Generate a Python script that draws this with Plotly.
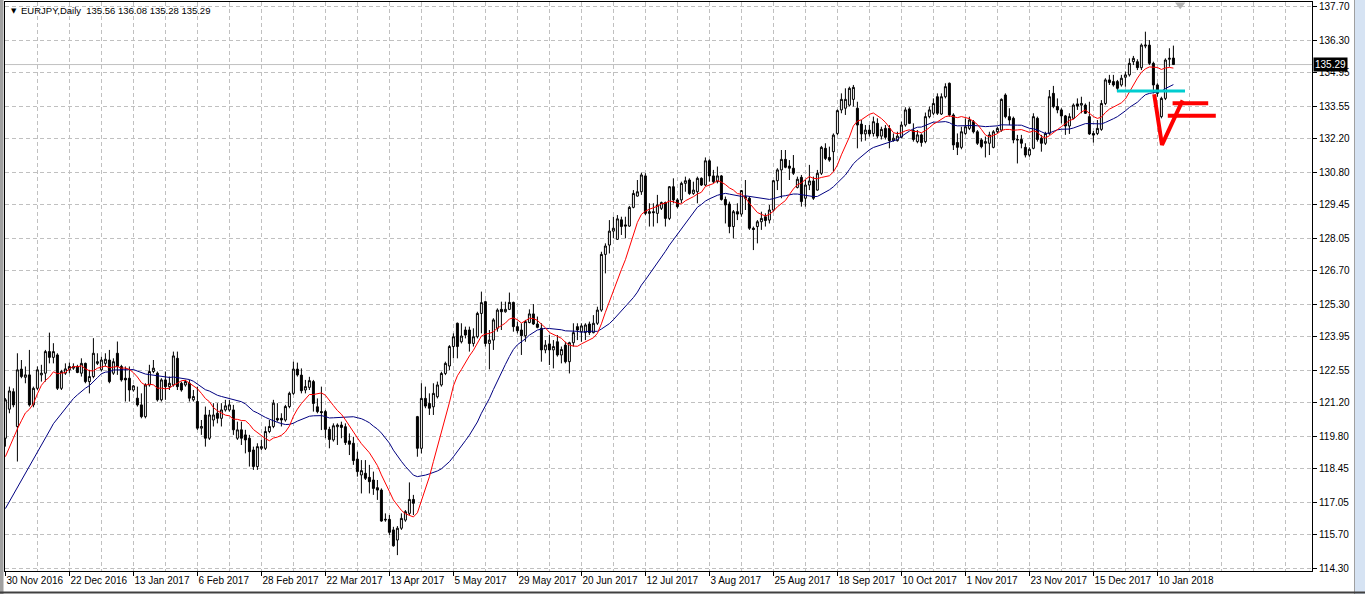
import plotly.graph_objects as go
import pandas as pd

# ---------------- data (EURJPY, Daily; 30 Nov 2016 .. 16 Jan 2018) ----------------
opens = [
119.72,120.93,121.66,120.21,122.60,122.26,122.36,121.11,121.80,122.36,
122.43,123.33,123.09,123.19,121.80,122.43,122.57,122.64,122.71,122.43,
122.84,122.08,122.29,122.84,122.57,122.84,122.98,122.43,123.26,122.71,
122.22,122.22,121.73,121.39,121.11,120.62,121.94,122.50,122.43,121.32,
122.15,121.87,121.94,123.05,122.01,121.94,122.01,121.32,121.25,120.14,
120.69,119.72,120.48,120.76,120.55,120.90,120.90,120.90,119.72,120.07,
119.86,119.72,119.23,118.54,119.30,119.30,120.00,120.21,120.55,120.55,
120.48,121.04,121.59,122.60,122.35,121.73,121.84,122.08,121.03,120.83,
120.83,120.09,119.65,120.20,120.27,120.20,119.61,119.51,118.85,118.19,
118.26,118.09,117.98,117.66,117.56,116.31,116.34,115.90,115.48,115.97,
116.31,116.59,117.17,120.62,119.30,121.38,121.17,121.03,121.45,121.94,
122.42,122.73,123.54,124.51,123.74,124.23,124.23,123.67,123.95,124.92,
125.41,123.67,123.81,124.30,125.09,124.99,125.09,125.38,124.37,124.23,
123.99,124.54,124.90,124.48,124.30,123.40,123.65,123.40,123.74,123.19,
123.60,122.91,123.70,124.37,124.16,124.12,124.48,124.12,124.51,125.06,
127.38,127.77,128.35,128.01,128.82,128.61,128.56,129.34,129.81,129.99,
130.65,129.09,129.16,129.09,129.30,129.54,128.88,130.20,129.65,129.65,
130.34,130.48,129.92,129.99,130.55,130.27,131.28,130.65,130.41,130.65,
129.67,129.48,128.54,129.16,129.06,129.79,129.72,128.47,128.54,128.74,
128.95,128.81,129.23,130.45,130.90,131.34,131.06,130.97,130.17,130.59,
129.72,130.27,130.44,130.06,130.76,131.80,131.42,131.66,132.42,133.40,
133.47,133.60,133.84,133.47,132.81,132.40,132.56,132.42,132.84,132.31,
132.63,132.63,132.12,132.12,132.26,132.77,133.44,132.54,132.08,132.36,
132.08,133.12,133.26,133.95,133.23,133.95,134.51,133.19,132.04,131.84,
132.42,132.63,132.91,132.49,132.15,132.01,132.01,131.84,132.49,132.56,
134.02,133.12,133.05,132.17,132.17,131.84,131.52,131.80,133.05,132.22,
132.01,132.42,134.09,133.54,133.40,133.15,132.73,133.05,133.65,133.60,
133.60,133.12,132.42,132.42,132.59,133.67,134.65,134.58,134.58,134.44,
134.76,134.86,135.41,135.41,135.16,136.06,136.10,135.34,134.44,133.12,
133.88,135.51,135.56]
highs = [
121.39,121.87,121.80,123.26,122.98,122.71,123.40,121.87,122.71,122.78,
123.40,124.12,123.68,123.26,122.57,122.84,122.87,122.84,122.78,123.05,
122.87,122.57,123.89,123.26,123.12,123.26,123.40,123.05,123.75,122.78,
122.71,122.71,121.94,121.87,121.59,122.01,122.78,122.98,122.50,122.22,
122.50,122.29,123.33,123.33,122.08,122.15,122.15,121.73,121.87,120.48,
121.04,120.90,121.18,121.18,121.18,121.32,121.32,121.11,120.41,120.41,
120.07,119.86,119.37,119.51,119.65,120.21,120.48,121.32,121.18,120.76,
121.11,121.66,122.91,122.87,122.63,122.15,122.28,122.15,121.38,121.87,
120.90,120.20,120.34,120.34,120.41,120.34,119.92,119.78,119.16,118.81,
118.81,118.61,118.33,117.98,117.63,116.59,116.52,116.03,116.06,116.59,
116.73,117.88,117.36,120.65,122.01,121.87,121.59,122.01,122.08,122.49,
122.91,123.60,124.09,124.54,124.51,124.37,124.37,124.30,124.99,125.83,
125.45,124.23,124.72,125.13,125.41,125.41,125.79,125.41,124.58,124.51,
124.65,125.09,125.31,124.79,124.51,123.81,124.02,123.81,124.02,123.54,
123.74,123.74,124.51,124.51,124.51,124.51,124.58,124.85,125.20,127.49,
127.84,128.81,128.95,129.02,128.95,128.95,129.40,130.06,130.48,130.79,
130.76,129.51,129.51,129.86,129.58,129.58,130.23,130.55,129.72,130.41,
130.62,130.55,130.41,130.62,130.59,131.42,131.34,130.90,131.04,130.69,
129.79,129.58,129.23,129.51,130.06,130.48,129.79,128.54,128.81,129.16,
129.09,129.44,130.48,130.97,131.73,131.73,131.31,131.52,130.62,130.69,
130.48,131.11,130.62,130.90,131.90,132.01,131.87,132.42,133.42,134.09,
134.30,134.37,134.44,133.74,132.98,132.77,132.77,133.12,133.05,132.70,
132.77,132.77,132.42,132.49,132.91,133.51,133.51,132.84,132.56,132.42,
133.29,133.54,133.88,134.09,134.09,134.51,134.54,133.26,132.42,132.70,
133.05,133.12,132.98,132.56,132.22,132.29,132.49,132.56,132.70,133.88,
134.09,133.47,133.12,132.36,132.36,132.01,131.84,133.26,133.12,132.36,
132.49,134.23,134.40,133.88,133.47,133.19,133.26,133.67,133.88,133.95,
133.67,133.74,132.52,132.98,133.81,134.72,134.86,134.86,134.65,134.86,
135.00,135.55,135.65,135.51,136.17,136.66,136.31,135.41,134.51,133.95,
135.55,135.97,136.08]
lows = [
119.37,120.76,121.01,118.75,122.22,122.01,121.04,121.01,121.73,122.08,
122.08,122.84,122.84,121.73,121.73,122.36,122.43,122.57,122.43,122.29,
122.01,121.59,122.22,122.77,122.50,122.71,122.01,122.36,122.36,122.08,
121.25,121.25,121.66,121.04,120.55,120.55,121.87,122.43,121.25,121.25,
121.32,121.73,121.87,121.73,121.66,121.87,121.25,121.25,120.07,119.86,
119.37,119.65,120.21,120.34,120.21,120.83,120.83,119.86,119.65,119.44,
119.09,118.54,118.40,118.40,119.23,119.23,119.93,120.14,120.41,120.21,
120.41,120.97,121.53,122.29,121.59,121.59,121.73,120.83,120.76,120.06,
119.72,119.30,119.58,119.44,119.72,119.44,119.02,118.61,118.12,117.42,
117.98,117.42,117.36,117.15,116.24,116.24,115.69,115.20,114.85,115.90,
116.24,116.52,116.52,118.95,119.09,120.97,120.69,120.69,121.38,121.87,
122.35,122.56,123.05,123.05,123.67,123.88,123.33,123.54,123.88,124.09,
123.54,122.59,123.40,124.16,124.23,124.95,125.06,124.16,124.09,123.19,
123.74,124.51,124.44,124.30,122.91,123.26,122.77,122.63,123.12,122.84,
122.84,122.42,123.54,123.81,123.74,123.81,124.02,124.09,124.44,124.99,
126.59,127.42,128.05,127.98,128.19,128.05,128.53,129.30,129.79,129.86,
129.02,128.54,128.54,128.68,129.23,128.54,128.81,129.51,129.30,129.51,
129.99,129.86,129.86,129.51,130.23,130.23,130.41,130.34,130.34,129.62,
128.67,128.26,128.05,128.81,128.95,129.23,128.40,127.56,127.84,128.40,
128.54,128.67,129.16,130.06,129.72,130.97,130.48,130.69,130.13,129.37,
129.37,130.06,129.65,130.04,130.69,131.31,131.24,130.83,132.35,133.26,
133.19,133.54,133.54,131.80,132.08,132.12,132.29,132.29,132.21,132.17,
132.17,131.80,132.08,132.08,132.22,132.70,132.81,132.08,132.01,131.87,
132.01,133.05,133.19,133.19,133.19,133.88,133.12,131.73,131.52,131.76,
132.36,132.56,132.42,131.94,131.80,131.42,131.52,131.80,132.42,132.49,
133.05,132.77,132.01,131.17,131.80,131.42,131.45,131.76,132.08,131.66,
131.94,132.36,133.47,133.26,132.84,132.36,132.40,133.01,133.40,133.26,
133.23,132.36,132.04,132.35,132.53,133.60,134.44,134.37,134.16,134.37,
134.37,134.79,135.27,135.06,135.06,135.97,135.27,134.09,133.95,133.05,
133.81,135.20,135.28]
closes = [
121.32,121.69,121.11,122.57,122.29,122.36,121.11,121.80,122.57,122.43,
123.33,123.09,123.33,121.80,122.50,122.61,122.71,122.71,122.46,122.84,
122.08,122.29,123.26,122.91,122.98,123.01,122.08,122.91,122.71,122.15,
122.15,121.73,121.90,121.11,120.62,121.94,122.50,122.64,121.32,122.15,
121.87,122.01,123.15,121.87,121.73,122.08,121.39,121.46,120.14,120.21,
119.72,120.69,120.69,120.55,120.90,121.07,121.11,120.07,120.07,119.72,
119.65,119.16,118.54,119.37,119.37,120.00,120.21,121.18,120.48,120.48,
121.04,121.59,122.60,122.36,121.70,121.87,122.12,121.17,120.83,120.79,
120.09,119.67,120.24,120.27,120.17,119.54,119.47,118.79,118.33,118.37,
118.05,117.91,117.63,117.56,116.27,116.34,115.80,115.24,115.97,116.38,
116.66,117.17,117.01,119.30,121.38,121.06,120.97,121.59,121.94,122.42,
122.84,123.54,123.95,123.54,123.98,124.02,123.67,123.95,124.92,125.37,
123.67,123.81,124.65,125.06,124.99,125.09,125.38,124.37,124.20,123.99,
124.58,124.90,124.48,124.34,123.40,123.60,123.40,123.54,123.19,123.42,
122.91,123.70,124.12,124.23,124.40,124.44,124.12,124.51,125.06,127.38,
127.73,128.35,128.47,128.86,128.54,128.56,129.34,129.92,129.99,130.69,
129.09,129.16,129.12,129.44,129.54,128.88,130.20,129.65,129.37,130.34,
130.45,129.92,130.06,130.55,130.27,131.28,130.65,130.41,130.65,129.67,
129.44,128.54,129.16,129.06,130.04,129.72,128.47,128.42,128.74,128.88,
128.79,129.23,130.45,130.90,131.34,131.01,130.97,130.76,130.51,129.58,
130.27,130.44,129.72,130.76,131.84,131.38,131.31,132.35,133.37,133.84,
133.84,134.30,134.34,132.77,132.40,132.56,132.40,132.91,132.31,132.59,
132.26,132.12,132.22,132.31,132.77,133.40,132.84,132.17,132.36,132.04,
133.12,133.40,133.67,133.26,133.95,134.37,133.19,131.94,131.84,132.49,
132.70,132.98,132.49,132.01,131.87,132.08,132.36,132.49,132.63,133.84,
133.12,132.98,132.15,132.15,132.01,131.52,131.76,133.12,132.17,132.01,
132.42,133.95,133.54,133.40,133.15,132.73,133.12,133.60,133.56,133.67,
133.26,132.40,132.35,132.63,133.67,134.65,134.54,134.44,134.30,134.72,
134.86,135.34,135.55,135.16,136.10,136.10,135.34,134.44,134.09,133.88,
135.48,135.55,135.29]

# closes of the 24 sessions before the first visible bar (only feed the moving averages)
warmup_closes = [114.4,114.6,114.9,114.9,114.4,114.3,114.0,115.4,116.0,114.8,
                 115.8,115.8,116.6,117.0,117.3,117.6,117.6,118.6,118.9,119.1,
                 119.6,119.5,118.4,118.9]
ma_fast_period = 10
ma_slow_period = 25

tick_labels = ["30 Nov 2016","22 Dec 2016","13 Jan 2017","6 Feb 2017","28 Feb 2017",
               "22 Mar 2017","13 Apr 2017","5 May 2017","29 May 2017","20 Jun 2017",
               "12 Jul 2017","3 Aug 2017","25 Aug 2017","18 Sep 2017","10 Oct 2017",
               "1 Nov 2017","23 Nov 2017","15 Dec 2017","10 Jan 2018"]
label_every = 16
price_labels = ["137.70","136.30","134.95","133.55","132.20","130.80","129.45","128.05",
                "126.70","125.30","123.95","122.55","121.20","119.80","118.45","117.05",
                "115.70","114.30"]

# hand-drawn objects on the chart (bar index, price)
cyan_line_x = [277.9, 294.9]
cyan_line_y = [134.19, 134.19]
red_v_x = [287.2, 289.15, 294.3]
red_v_y = [134.05, 131.94, 133.80]
red_upper_x = [291.8, 300.7]
red_upper_y = [133.68, 133.68]
red_lower_x = [290.6, 302.6]
red_lower_y = [133.16, 133.16]
shift_marker_x = [293.7]
shift_marker_y = [137.78]

# ---------------- figure ----------------
W, H = 1365, 594
ML, MR, MT, MB = 5, 53, 2, 23
PW, PH = W - ML - MR, H - MT - MB
FONT = "Liberation Sans, Arial, sans-serif"
FS = 10
GRID = "#c0c0c0"

def px_x(px):
    return (px - ML) / PW

def px_y(py):
    return 1 - (py - MT) / PH

n = len(closes)
xs = list(range(n))

allc = pd.Series(warmup_closes + closes)
ma_fast = allc.rolling(ma_fast_period).mean().iloc[len(warmup_closes):].tolist()
ma_slow = allc.rolling(ma_slow_period).mean().iloc[len(warmup_closes):].tolist()

fig = go.Figure()
fig.add_trace(go.Candlestick(
    x=xs, open=opens, high=highs, low=lows, close=closes,
    increasing=dict(line=dict(color="black", width=1), fillcolor="white"),
    decreasing=dict(line=dict(color="black", width=1), fillcolor="black"),
    whiskerwidth=0, hoverinfo="skip", showlegend=False))
fig.add_trace(go.Scatter(x=xs, y=ma_slow, mode="lines",
                         line=dict(color="#000080", width=1), hoverinfo="skip", showlegend=False))
fig.add_trace(go.Scatter(x=xs, y=ma_fast, mode="lines",
                         line=dict(color="#ff0000", width=1), hoverinfo="skip", showlegend=False))
fig.add_trace(go.Scatter(x=cyan_line_x, y=cyan_line_y, mode="lines",
                         line=dict(color="#00cdd0", width=3), hoverinfo="skip", showlegend=False))
for lx, ly in ((red_v_x, red_v_y), (red_upper_x, red_upper_y), (red_lower_x, red_lower_y)):
    fig.add_trace(go.Scatter(x=lx, y=ly, mode="lines",
                             line=dict(color="#ff0000", width=4), hoverinfo="skip", showlegend=False))
fig.add_trace(go.Scatter(x=shift_marker_x, y=shift_marker_y, mode="markers",
                         marker=dict(symbol="triangle-down", size=9, color="#b4b4b4"),
                         cliponaxis=False, hoverinfo="skip", showlegend=False))

last_close = closes[-1]
title = "EURJPY,Daily  {:.2f} {:.2f} {:.2f} {:.2f}".format(opens[-1], highs[-1], lows[-1], closes[-1])

fig.update_layout(
    width=W, height=H,
    margin=dict(l=ML, r=MR, t=MT, b=MB, pad=0, autoexpand=False),
    paper_bgcolor="white", plot_bgcolor="white",
    font=dict(family=FONT, size=FS, color="black"),
    showlegend=False,
    xaxis=dict(
        range=[-0.1, -0.1 + PW / 4.0],
        tickmode="array",
        tickvals=list(range(0, n, label_every)),
        ticktext=tick_labels,
        tickangle=0, automargin=False,
        ticks="outside", ticklen=4, tickcolor="black", tickwidth=1,
        ticklabelposition="outside right",
        showline=True, linecolor="black", linewidth=1, mirror=True,
        showgrid=True, gridcolor=GRID, gridwidth=1, griddash="4px,3px",
        minor=dict(tick0=0, dtick=label_every // 2, showgrid=True, gridcolor=GRID,
                   gridwidth=1, griddash="4px,3px", ticks=""),
        zeroline=False, rangeslider=dict(visible=False), fixedrange=True,
        tickfont=dict(family=FONT, size=FS, color="black"),
    ),
    yaxis=dict(
        side="right", automargin=False,
        range=[137.98 - (H - MB) / 24.0, 137.98 - MT / 24.0],
        tickmode="array",
        tickvals=[float(v) for v in price_labels],
        ticktext=price_labels,
        ticks="outside", ticklen=4, tickcolor="black", tickwidth=1,
        showline=True, linecolor="black", linewidth=1, mirror=True,
        showgrid=True, gridcolor=GRID, gridwidth=1, griddash="4px,3px",
        zeroline=False, fixedrange=True,
        tickfont=dict(family=FONT, size=FS, color="black"),
    ),
)

# current price line
fig.add_shape(type="line", xref="paper", yref="y", x0=0, x1=1, y0=last_close, y1=last_close,
              line=dict(color="#c0c0c0", width=1), layer="below")
# window decorations
fig.add_shape(type="rect", xref="paper", yref="paper", x0=px_x(0), x1=px_x(3.5),
              y0=px_y(H), y1=px_y(0), fillcolor="#a0a0a0", line=dict(width=0), layer="above")
fig.add_shape(type="rect", xref="paper", yref="paper", x0=px_x(1355), x1=px_x(W),
              y0=px_y(H), y1=px_y(0), fillcolor="#d6e3f3", line=dict(width=0), layer="above")
fig.add_shape(type="line", xref="paper", yref="paper", x0=px_x(1354.5), x1=px_x(1354.5),
              y0=px_y(H), y1=px_y(0), line=dict(color="#a0a0a0", width=1), layer="above")
fig.add_shape(type="line", xref="paper", yref="paper", x0=px_x(0), x1=px_x(W),
              y0=px_y(592.5), y1=px_y(592.5), line=dict(color="#404040", width=2), layer="above")

# price label box
fig.add_annotation(xref="paper", yref="y", x=1, y=last_close, xanchor="left", yanchor="middle",
                   xshift=1, text="{:.2f}".format(last_close), showarrow=False,
                   font=dict(family=FONT, size=FS, color="white"), bgcolor="black", borderpad=1)
# chart title
fig.add_annotation(xref="paper", yref="paper", x=px_x(9), y=px_y(11), xanchor="left", yanchor="middle",
                   text="▼", showarrow=False, font=dict(family="DejaVu Sans", size=7, color="black"))
fig.add_annotation(xref="paper", yref="paper", x=px_x(19), y=px_y(11), xanchor="left", yanchor="middle",
                   text=title, showarrow=False, font=dict(family=FONT, size=9.5, color="black"))

fig.write_html("out.html")
